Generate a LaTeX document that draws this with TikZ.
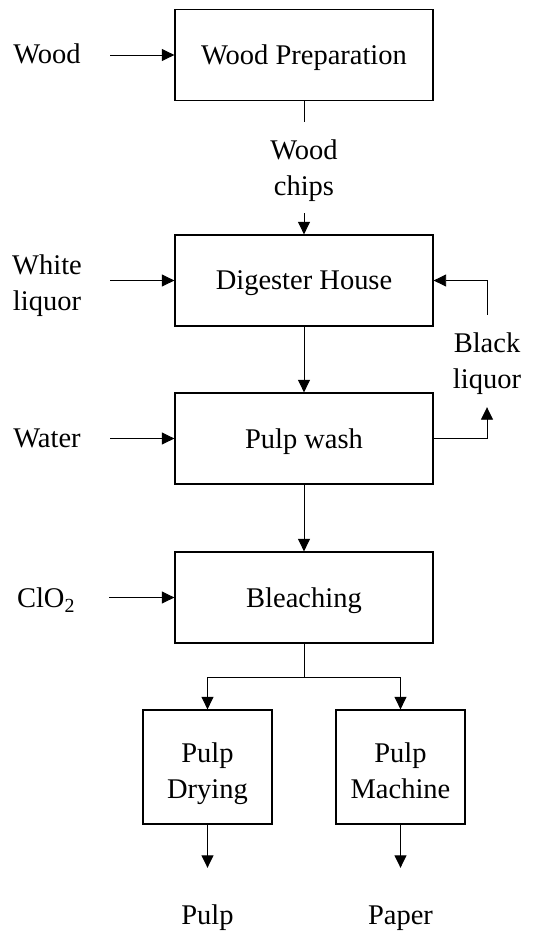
\documentclass[tikz,border=0pt]{standalone}
\usepackage{fontspec}
\setmainfont{Liberation Serif}
\usetikzlibrary{arrows.meta}
\newcommand{\lowerstrut}{\rule{0pt}{27bp}}
\begin{document}
\begin{tikzpicture}[x=1bp,y=-1bp,
  every node/.style={font=\fontsize{28.6pt}{36.1pt}\selectfont, inner sep=0pt, align=center, text depth=0pt},
  unit/.style={draw, line width=1.3bp, minimum width=258bp, minimum height=91bp},
  subunit/.style={draw, line width=1.3bp, minimum width=129bp, minimum height=114bp},
  feed/.style={minimum width=126bp},
  flow/.style={line width=0.9bp},
  arr/.style={flow, -{Triangle[length=12.5bp,width=12bp]}}
]
\useasboundingbox (0,0) rectangle (550,932);

% process units
\node[unit] (prep)   at (304,55)    {Wood Preparation};
\node[unit] (dig)    at (304,280.5) {Digester House};
\node[unit] (wash)   at (304,438.5) {Pulp wash};
\node[unit] (bleach) at (304,597.5) {Bleaching};
\node[subunit] (dry)  at (207.5,767) {\lowerstrut Pulp\\Drying};
\node[subunit] (mach) at (400.5,767) {\lowerstrut Pulp\\Machine};

% feed streams
\node[feed] (wood)  at (47,54)  {Wood};
\node[feed] (white) at (47,283) {White\\liquor};
\node[feed] (water) at (47,438) {Water};
\node[feed] (clo)   at (46,598) {ClO\textsubscript{2}};

% intermediate and product streams
\node[minimum height=91bp] (chips) at (304,167.5) {Wood\\chips};
\node[minimum height=92bp] (black) at (487,361) {Black\\liquor};
\node[minimum height=94bp] (pulp)  at (207.5,915) {Pulp};
\node[minimum height=94bp] (paper) at (400.5,915) {Paper};
\coordinate (split) at (304,677);

% connectors
\draw[arr] (wood.east |- prep.west) -- (prep.west);
\draw[arr] (white.east |- dig.west) -- (dig.west);
\draw[arr] (water.east |- wash.west) -- (wash.west);
\draw[arr] (clo.east |- bleach.west) -- (bleach.west);

\draw[flow] (prep.south) -- (chips.north);
\draw[arr] (chips.south) -- (dig.north);
\draw[arr] (dig.south) -- (wash.north);
\draw[arr] (wash.south) -- (bleach.north);

\draw[arr] (wash.east) -| (black.south);
\draw[arr] (black.north) |- (dig.east);

\draw[flow] (bleach.south) -- (split);
\draw[arr] (split) -| (dry.north);
\draw[arr] (split) -| (mach.north);

\draw[arr] (dry.south) -- (pulp.north);
\draw[arr] (mach.south) -- (paper.north);
\end{tikzpicture}
\end{document}
